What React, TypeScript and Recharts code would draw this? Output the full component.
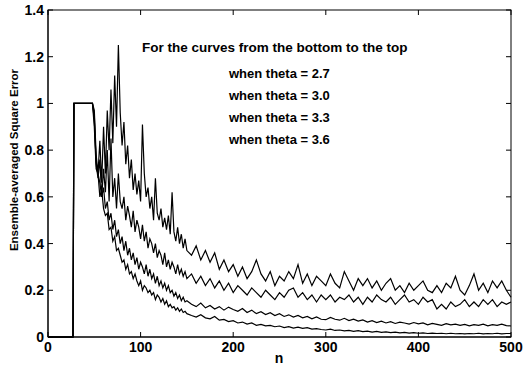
import { LineChart, Line, XAxis, YAxis } from 'recharts';

// sample positions (n)
const nValues = [
  0, 27, 28, 48,
  50, 52, 54, 56, 58, 60, 62, 64, 66, 68, 70, 72, 74, 76, 78, 80,
  82, 84, 86, 88, 90, 92, 94, 96, 98, 100, 102, 104, 106, 108, 110, 112,
  114, 116, 118, 120, 122, 124, 126, 128, 130, 132, 134, 136, 138, 140, 142, 144,
  146, 148, 150,
  155, 160, 165, 170, 175, 180, 185, 190, 195, 200, 205, 210, 215, 220, 225, 230,
  235, 240, 245, 250, 255, 260, 265, 270, 275, 280, 285, 290, 295, 300, 305, 310,
  315, 320, 325, 330, 335, 340, 345, 350, 355, 360, 365, 370, 375, 380, 385, 390,
  395, 400, 405, 410, 415, 420, 425, 430, 435, 440, 445, 450, 455, 460, 465, 470,
  475, 480, 485, 490, 495, 500,
];

// theta = 2.7 (bottom curve)
const theta27 = [
  0, 0, 1, 1,
  0.9, 0.72, 0.7, 0.6, 0.63, 0.55, 0.52, 0.53, 0.46, 0.47, 0.41, 0.43, 0.37, 0.38, 0.35, 0.32,
  0.33, 0.29, 0.31, 0.27, 0.28, 0.25, 0.27, 0.24, 0.22, 0.24, 0.2, 0.22, 0.21, 0.19, 0.2, 0.18,
  0.19, 0.16, 0.18, 0.17, 0.15, 0.165, 0.14, 0.155, 0.13, 0.14, 0.125, 0.13, 0.115, 0.125, 0.11, 0.12,
  0.105, 0.11, 0.1,
  0.092, 0.085, 0.095, 0.082, 0.078, 0.088, 0.072, 0.075, 0.066, 0.07, 0.06, 0.064, 0.055, 0.06, 0.05, 0.054,
  0.048, 0.05, 0.044, 0.047, 0.04, 0.044, 0.038, 0.042, 0.037, 0.04, 0.034, 0.036, 0.032, 0.03, 0.034, 0.028,
  0.03, 0.026, 0.028, 0.024, 0.027, 0.023, 0.025, 0.021, 0.024, 0.02, 0.022, 0.019, 0.021, 0.018, 0.02, 0.017,
  0.019, 0.016, 0.018, 0.015, 0.017, 0.015, 0.016, 0.014, 0.016, 0.014, 0.015, 0.013, 0.015, 0.014, 0.016, 0.013,
  0.015, 0.014, 0.016, 0.013, 0.015, 0.015,
];

// theta = 3.0
const theta30 = [
  0, 0, 1, 1,
  0.93, 0.75, 0.7, 0.66, 0.6, 0.64, 0.55, 0.58, 0.5, 0.53, 0.46, 0.5, 0.43, 0.46, 0.4, 0.43,
  0.37, 0.41, 0.35, 0.38, 0.33, 0.36, 0.31, 0.34, 0.29, 0.32, 0.3, 0.27, 0.31, 0.26, 0.29, 0.25,
  0.27, 0.23, 0.26, 0.22, 0.24, 0.21, 0.23, 0.2, 0.22, 0.19, 0.2, 0.175, 0.19, 0.165, 0.18, 0.155,
  0.17, 0.15, 0.155,
  0.14, 0.13, 0.145, 0.125, 0.135, 0.12, 0.13, 0.115, 0.128, 0.118, 0.11, 0.122, 0.105, 0.115, 0.1, 0.108,
  0.096, 0.104, 0.092, 0.1, 0.088, 0.095, 0.085, 0.092, 0.082, 0.088, 0.078, 0.086, 0.076, 0.074, 0.084, 0.076,
  0.072, 0.08, 0.07, 0.076, 0.068, 0.073, 0.064, 0.07, 0.062, 0.068, 0.06, 0.066, 0.058, 0.064, 0.06, 0.055,
  0.062, 0.056, 0.06, 0.052, 0.058, 0.054, 0.05, 0.057, 0.052, 0.055, 0.05, 0.054, 0.048, 0.053, 0.05, 0.055,
  0.048, 0.053, 0.05, 0.055, 0.049, 0.047,
];

// theta = 3.3
const theta33 = [
  0, 0, 1, 1,
  0.95, 0.74, 0.68, 0.76, 0.6, 0.72, 0.62, 0.8, 0.58, 0.85, 0.6, 0.68, 0.55, 0.7, 0.58, 0.55,
  0.6, 0.5, 0.56, 0.52, 0.47, 0.54, 0.45, 0.5, 0.47, 0.42, 0.48, 0.41, 0.45, 0.38, 0.42, 0.4,
  0.36, 0.4, 0.34, 0.37, 0.35, 0.31, 0.36, 0.3, 0.33, 0.29, 0.32, 0.3, 0.27, 0.31, 0.27, 0.29,
  0.26, 0.28, 0.25,
  0.27, 0.23, 0.26, 0.22, 0.25, 0.21, 0.24, 0.2, 0.23, 0.19, 0.22, 0.2, 0.18, 0.21, 0.19, 0.17,
  0.2, 0.18, 0.16, 0.19, 0.17, 0.2, 0.21, 0.17, 0.19, 0.16, 0.18, 0.15, 0.18, 0.16, 0.18, 0.15,
  0.17, 0.16, 0.18, 0.15, 0.17, 0.14, 0.17, 0.15, 0.18, 0.16, 0.15, 0.17, 0.14, 0.16, 0.18, 0.15,
  0.16, 0.14, 0.17, 0.15, 0.16, 0.12, 0.14, 0.12, 0.15, 0.13, 0.14, 0.16, 0.13, 0.15, 0.13, 0.16,
  0.14, 0.16, 0.13, 0.15, 0.14, 0.15,
];

// theta = 3.6 (top curve)
const theta36 = [
  0, 0, 1, 1,
  0.97, 0.78, 0.7, 0.84, 0.66, 0.9, 0.7, 0.97, 0.8, 1.06, 0.83, 1.12, 0.9, 1.25, 0.96, 0.82,
  0.92, 0.74, 0.82, 0.68, 0.76, 0.63, 0.7, 0.61, 0.67, 0.58, 0.91, 0.7, 0.6, 0.64, 0.55, 0.6,
  0.5, 0.68, 0.53, 0.5, 0.55, 0.47, 0.51, 0.46, 0.52, 0.44, 0.62, 0.45, 0.41, 0.47, 0.4, 0.44,
  0.38, 0.42, 0.37,
  0.35, 0.39, 0.33, 0.37, 0.32, 0.36, 0.29, 0.33, 0.28, 0.31, 0.26, 0.3, 0.25, 0.28, 0.33, 0.27,
  0.24, 0.28, 0.22, 0.26, 0.24, 0.28, 0.25, 0.31, 0.23, 0.27, 0.22, 0.26, 0.24, 0.22, 0.27, 0.23,
  0.21, 0.28, 0.24, 0.2, 0.25, 0.22, 0.25, 0.21, 0.24, 0.2, 0.23, 0.25, 0.2, 0.22, 0.19, 0.23,
  0.2, 0.22, 0.24, 0.2, 0.19, 0.22, 0.19, 0.23, 0.21, 0.26, 0.2, 0.18, 0.22, 0.27, 0.2, 0.23,
  0.19, 0.24, 0.21, 0.24, 0.2, 0.17,
];

const xTicks = [0, 100, 200, 300, 400, 500];
const yTicks = [0, 0.2, 0.4, 0.6, 0.8, 1, 1.2, 1.4];
const noteTitle = 'For the curves from the bottom to the top';
const noteLines = ['when theta = 2.7', 'when theta = 3.0', 'when theta = 3.3', 'when theta = 3.6'];

const data = nValues.map((n, i) => ({
  n,
  t27: theta27[i],
  t30: theta30[i],
  t33: theta33[i],
  t36: theta36[i],
}));

const FONT = '"Liberation Sans", Arial, sans-serif';
const LEFT = 48;
const TOP = 10;
const RIGHT = 511;
const BOTTOM = 337;
const TICK = 5;

// bottom tick: label + inward marks on bottom and top edges
function BottomTick({ x, y, payload }: any) {
  return (
    <g>
      <line x1={x} y1={BOTTOM} x2={x} y2={BOTTOM - TICK} stroke="#000" />
      <line x1={x} y1={TOP} x2={x} y2={TOP + TICK} stroke="#000" />
      <text x={x} y={y} dy="0.71em" textAnchor="middle" fontSize={14} fontWeight="bold" fontFamily={FONT} fill="#000">
        {payload.value}
      </text>
    </g>
  );
}

// left tick: label + inward marks on left and right edges
function LeftTick({ x, y, payload }: any) {
  return (
    <g>
      <line x1={LEFT} y1={y} x2={LEFT + TICK} y2={y} stroke="#000" />
      <line x1={RIGHT} y1={y} x2={RIGHT - TICK} y2={y} stroke="#000" />
      <text x={x} y={y} dy="0.36em" textAnchor="end" fontSize={14} fontWeight="bold" fontFamily={FONT} fill="#000">
        {payload.value}
      </text>
    </g>
  );
}

export default function App() {
  return (
    <div style={{ position: 'absolute', left: 0, top: 0, background: '#fff' }}>
      <LineChart width={526} height={375} data={data} margin={{ top: 10, right: 15, bottom: 8, left: 8 }}>
        <rect x={LEFT} y={TOP} width={RIGHT - LEFT} height={BOTTOM - TOP} fill="none" stroke="#000" />
        <XAxis
          dataKey="n"
          type="number"
          domain={[0, 500]}
          ticks={xTicks}
          height={30}
          tickSize={0}
          tickMargin={5}
          tickLine={false}
          axisLine={{ stroke: '#000' }}
          tick={<BottomTick />}
          label={{
            content: () => (
              <text x={279} y={363} textAnchor="middle" fontSize={14} fontWeight="bold" fontFamily={FONT} fill="#000">
                n
              </text>
            ),
          }}
        />
        <YAxis
          type="number"
          domain={[0, 1.4]}
          ticks={yTicks}
          width={40}
          tickSize={0}
          tickMargin={4}
          tickLine={false}
          axisLine={{ stroke: '#000' }}
          tick={<LeftTick />}
          label={{
            content: () => (
              <text
                x={18}
                y={160}
                transform="rotate(-90 18 160)"
                textAnchor="middle"
                fontSize={11.5}
                fontWeight="bold"
                fontFamily={FONT}
                fill="#000"
              >
                Ensemble-averaged Square Error
              </text>
            ),
          }}
        />
        <Line type="linear" dataKey="t27" stroke="#000" strokeWidth={1.2} dot={false} isAnimationActive={false} />
        <Line type="linear" dataKey="t30" stroke="#000" strokeWidth={1.2} dot={false} isAnimationActive={false} />
        <Line type="linear" dataKey="t33" stroke="#000" strokeWidth={1.2} dot={false} isAnimationActive={false} />
        <Line type="linear" dataKey="t36" stroke="#000" strokeWidth={1.2} dot={false} isAnimationActive={false} />
        <text x={142} y={52} fontSize={13.5} fontFamily={FONT} fontWeight="bold" fill="#000">
          {noteTitle}
        </text>
        {noteLines.map((s, i) => (
          <text key={s} x={229} y={78 + i * 22} fontSize={13} fontFamily={FONT} fontWeight="bold" fill="#000">
            {s}
          </text>
        ))}
      </LineChart>
    </div>
  );
}
